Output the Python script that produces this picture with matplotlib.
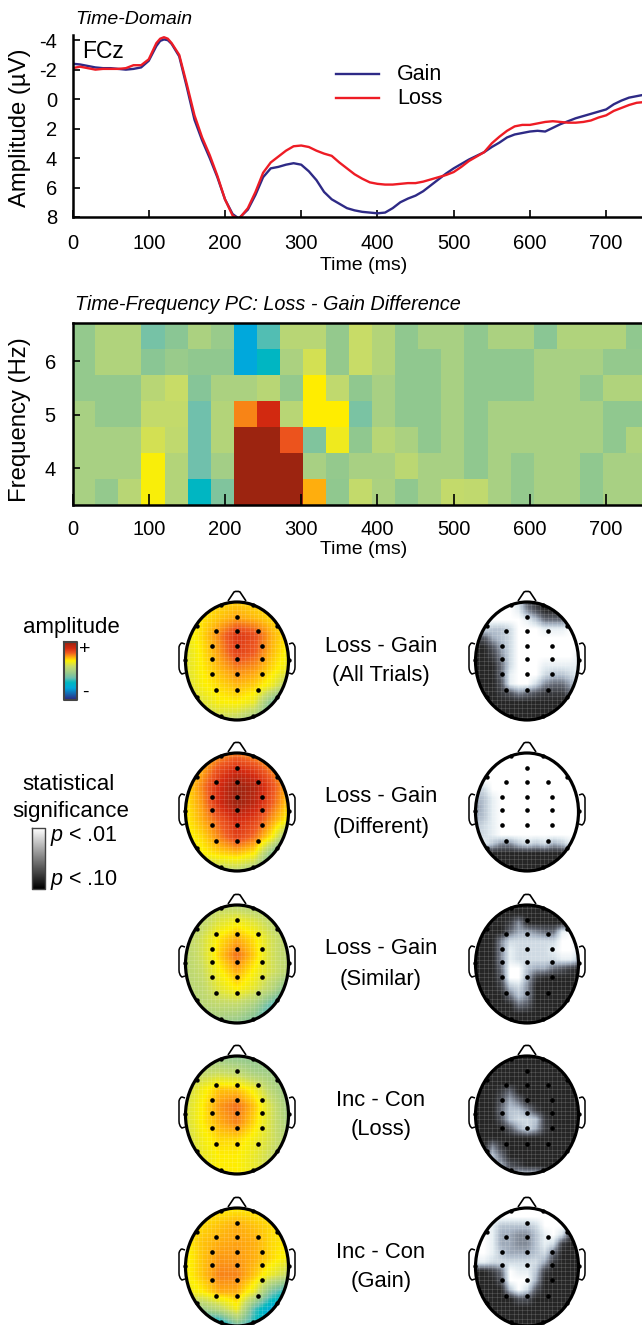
import numpy as np
import matplotlib
matplotlib.use('Agg')
import matplotlib.pyplot as plt
from matplotlib.colors import LinearSegmentedColormap
from matplotlib.patches import Ellipse, PathPatch
from matplotlib.path import Path

plt.rcParams['font.family'] = ['Liberation Sans', 'DejaVu Sans']
plt.rcParams['mathtext.fontset'] = 'custom'
plt.rcParams['mathtext.it'] = 'Liberation Sans:italic'
plt.rcParams['mathtext.rm'] = 'Liberation Sans'
plt.rcParams['axes.unicode_minus'] = False

W, H = 642, 1325

# ERP curves
time_ms = [0, 10, 20, 30, 40, 50, 60, 70, 80, 90, 100, 110, 115, 120, 125, 130, 140, 150, 160, 170, 180, 190,
           200, 210, 218, 230, 240, 250, 260, 270, 280, 290, 300, 310, 320, 330, 340, 350, 360, 370, 380, 390,
           400, 410, 420, 430, 440, 450, 460, 470, 480, 490, 500, 510, 520, 530, 540, 550, 560, 570, 580, 590,
           600, 610, 620, 630, 640, 650, 660, 670, 680, 690, 700, 710, 720, 730, 740, 750]
gain = [-2.4, -2.35, -2.25, -2.15, -2.1, -2.1, -2.05, -2.0, -2.05, -2.15, -2.6, -3.6, -3.95, -4.05, -4.0, -3.75, -2.9, -0.8, 1.4, 2.8, 4.0, 5.3,
        6.8, 7.8, 8.1, 7.5, 6.5, 5.3, 4.7, 4.6, 4.45, 4.35, 4.45, 4.9, 5.5, 6.3, 6.8, 7.1, 7.4, 7.55, 7.65, 7.7,
        7.75, 7.7, 7.4, 7.0, 6.75, 6.55, 6.25, 5.85, 5.45, 5.05, 4.7, 4.4, 4.1, 3.85, 3.6, 3.25, 2.95, 2.6, 2.4, 2.3,
        2.2, 2.15, 2.2, 1.95, 1.7, 1.5, 1.3, 1.15, 1.0, 0.85, 0.7, 0.35, 0.1, -0.1, -0.2, -0.3]
loss = [-2.1, -2.2, -2.1, -2.0, -2.05, -2.05, -2.05, -2.1, -2.3, -2.3, -2.7, -3.8, -4.1, -4.2, -4.1, -3.8, -3.0, -1.0, 1.1, 2.6, 3.8, 5.2,
        6.8, 7.9, 8.15, 7.4, 6.3, 5.0, 4.3, 3.9, 3.5, 3.2, 3.15, 3.25, 3.5, 3.7, 3.85, 4.3, 4.7, 5.1, 5.4, 5.65,
        5.75, 5.8, 5.8, 5.75, 5.7, 5.7, 5.6, 5.45, 5.3, 5.15, 4.95, 4.6, 4.2, 3.9, 3.6, 3.0, 2.55, 2.15, 1.85, 1.75,
        1.75, 1.65, 1.55, 1.5, 1.55, 1.6, 1.6, 1.55, 1.45, 1.25, 1.1, 0.8, 0.6, 0.4, 0.25, 0.2]

# time-frequency cells, position on the colour scale (top row first)
tf_rows = [
    [.46, .52, .52, .40, .44, .51, .47, .20, .36, .54, .54, .46, .58, .53, .45, .50, .50, .45, .51, .51, .44, .52, .52, .52, .45],
    [.46, .52, .52, .44, .47, .45, .45, .20, .29, .51, .60, .46, .58, .53, .45, .45, .50, .45, .45, .45, .50, .50, .50, .46, .46],
    [.46, .46, .46, .54, .58, .43, .51, .51, .54, .46, .68, .56, .45, .50, .45, .45, .50, .45, .45, .45, .50, .50, .46, .52, .52],
    [.50, .46, .46, .57, .57, .39, .53, .78, .90, .54, .68, .68, .41, .50, .45, .45, .50, .45, .50, .50, .50, .50, .50, .45, .45],
    [.50, .50, .50, .60, .56, .39, .53, 1.0, 1.0, .83, .42, .65, .45, .54, .51, .45, .50, .45, .50, .50, .50, .50, .50, .45, .52],
    [.50, .50, .50, .67, .53, .39, .49, 1.0, 1.0, 1.0, .50, .46, .50, .50, .55, .50, .50, .45, .50, .46, .50, .50, .45, .50, .50],
    [.50, .46, .54, .67, .53, .29, .42, 1.0, 1.0, 1.0, .74, .45, .57, .51, .45, .50, .57, .56, .50, .46, .50, .50, .45, .50, .50],
]

# scalp maps, amplitude in hundredths of the colour scale (7 columns, 8 rows)
amp_all = [[66, 68, 70, 71, 70, 68, 66], [66, 69, 72, 75, 73, 70, 67], [65, 70, 78, 88, 84, 74, 68], [62, 69, 76, 86, 82, 73, 66],
           [62, 68, 73, 78, 76, 70, 64], [60, 67, 70, 73, 71, 65, 52], [58, 62, 67, 68, 64, 42, 25], [55, 56, 58, 56, 48, 34, 25]]
amp_diff = [[68, 70, 75, 78, 75, 70, 68], [68, 74, 84, 90, 86, 78, 70], [68, 78, 90, 100, 96, 84, 72], [68, 76, 90, 100, 94, 82, 70],
            [67, 74, 82, 90, 86, 76, 66], [66, 70, 78, 86, 80, 68, 46], [62, 67, 70, 72, 68, 44, 24], [52, 54, 56, 56, 50, 32, 24]]
amp_sim = [[52, 54, 56, 54, 52, 50, 48], [54, 56, 62, 66, 62, 56, 52], [55, 60, 69, 74, 69, 60, 54], [54, 60, 71, 80, 71, 60, 54],
           [54, 58, 67, 74, 67, 60, 54], [53, 56, 63, 68, 63, 54, 40], [52, 54, 56, 56, 50, 36, 25], [48, 48, 48, 46, 40, 28, 25]]
amp_inc_loss = [[50, 50, 46, 44, 44, 46, 46], [52, 56, 58, 56, 50, 48, 46], [58, 66, 72, 72, 66, 54, 46], [60, 68, 76, 80, 72, 60, 48],
                [60, 68, 74, 78, 70, 60, 50], [58, 66, 70, 70, 66, 60, 52], [58, 64, 68, 68, 64, 58, 52], [58, 62, 68, 68, 64, 58, 54]]
amp_inc_gain = [[66, 68, 68, 68, 68, 66, 64], [66, 70, 72, 74, 72, 70, 66], [67, 72, 74, 75, 74, 70, 68], [66, 72, 76, 76, 74, 70, 66],
                [66, 72, 78, 78, 72, 64, 56], [64, 68, 74, 74, 64, 40, 28], [52, 48, 55, 66, 36, 20, 18], [22, 20, 20, 40, 30, 20, 20]]

# significance maps, 0 = p < .10 (black) to 9 = p < .01 (white), 13 columns, 14 rows
sig_all = ['9999972000147', '9999984200015', '9999998633368', '8766799988899', '2256799999999', '0025799999999', '0014799999998',
           '0003799988888', '0003899976678', '0002899743357', '0001243211135', '0000000000000', '0000000000000', '0000000000000']
sig_diff = ['9999999999999', '9999999999999', '9999999999999', '9999999999999', '7799999999999', '5689999999999', '4689999999999',
            '5689999999999', '6789999999999', '7789999999999', '8864467675689', '0000000000025', '0000000000000', '0000000000000']
sig_sim = ['0000000000000', '0000000000000', '0000140000000', '0000355433893', '0004777777997', '0004877778998', '0004877777886',
           '0003996553210', '0002995100000', '0001674000000', '0000364000000', '0000032000000', '0000000000000', '0000000000000']
sig_inc_loss = ['0000000000000', '0000000000000', '0000000000000', '0000000000000', '0001300000000', '0002530000000', '0003664100000',
                '0002677610000', '0000257510000', '0000000000000', '0041000000000', '0363000000000', '0045210000000', '0000366630000']
sig_inc_gain = ['9999999999999', '9999999999999', '9986666799999', '9985544689710', '9985544687100', '9986555673000', '8877777751000',
                '0013988610000', '0002999500000', '0000697200000', '0000022000000', '0000000000000', '0000000000000', '0000000000000']

amp_maps = [amp_all, amp_diff, amp_sim, amp_inc_loss, amp_inc_gain]
sig_maps = [sig_all, sig_diff, sig_sim, sig_inc_loss, sig_inc_gain]
row_names = [('Loss - Gain', '(All Trials)'), ('Loss - Gain', '(Different)'), ('Loss - Gain', '(Similar)'),
             ('Inc - Con', '(Loss)'), ('Inc - Con', '(Gain)')]
row_centers = [661, 812, 964, 1115, 1267]

# electrode offsets from the head centre
elec_x = [0, -21, 0, 21, -25, 0, 25, -25, 0, 25, -25, 0, 25, -21, 0, 21]
elec_y = [-44, -30, -30, -30, -15, -15, -15, -2, -2, -2, 13, 13, 13, 29, 29, 29]
rim_x = [-16, 16, -40, 40, -52, 52, -40, 40, -16, 16]
rim_y = [-56, -56, -35, -35, -1, -1, 36, 36, 55, 55]

amp_cmap = LinearSegmentedColormap.from_list('amp', [
    (0.0, '#2b2a84'), (0.2, '#00a8dc'), (0.3, '#00b8c0'), (0.38, '#6cc0b0'), (0.45, '#90c890'), (0.5, '#a8d084'),
    (0.58, '#c8dc68'), (0.68, '#fff000'), (0.75, '#ffa510'), (0.82, '#f05a20'), (0.9, '#d42a10'), (1.0, '#9c2410')])
sig_cmap = LinearSegmentedColormap.from_list('sig', [
    (0.0, '#262626'), (0.3, '#5e636e'), (0.6, '#a9b6c6'), (0.85, '#dfe9ef'), (1.0, '#ffffff')])


def px_axes(fig, left, top, right, bottom):
    return fig.add_axes([left / W, 1 - bottom / H, (right - left) / W, (bottom - top) / H])


fig = plt.figure(figsize=(W / 100, H / 100), dpi=100)

# time-domain panel
ax = px_axes(fig, 72.5, 35, 642, 217)
ax.plot(time_ms, gain, color='#2e2a86', lw=1.7)
ax.plot(time_ms, loss, color='#ee1c25', lw=1.7)
ax.set_xlim(0, 747)
ax.set_ylim(8, -4.35)
ax.set_yticks([-4, -2, 0, 2, 4, 6, 8])
ax.set_xticks(range(0, 701, 100))
ax.spines[['top', 'right']].set_visible(False)
ax.spines[['left', 'bottom']].set_linewidth(1.8)
ax.tick_params(direction='in', length=5, width=1.2, labelsize=14.5)
ax.tick_params(axis='x', pad=12)
ax.tick_params(axis='y', pad=11)

# heatmap panel
ax2 = px_axes(fig, 72.5, 323, 642, 505)
ax2.imshow(tf_rows, cmap=amp_cmap, vmin=0, vmax=1, aspect='auto', interpolation='nearest',
           extent=(-1, 755, 3.31, 6.71))
ax2.set_xlim(0, 747)
ax2.set_ylim(3.31, 6.71)
ax2.set_yticks([4, 5, 6])
ax2.set_xticks(range(0, 701, 100))
ax2.spines['right'].set_visible(False)
ax2.spines[['left', 'bottom', 'top']].set_linewidth(1.8)
ax2.tick_params(direction='in', length=8, width=1.2, labelsize=14.5)
ax2.tick_params(axis='x', pad=11)
ax2.tick_params(axis='y', length=5, pad=12)

# everything else is placed in pixel coordinates
ov = fig.add_axes([0, 0, 1, 1], facecolor='none')
ov.set_axis_off()
ov.set_autoscale_on(False)
ov.set_xlim(0, W)
ov.set_ylim(H, 0)

ov.text(75, 20, 'Time-Domain', fontsize=14, style='italic', va='center')
ov.text(75, 305, 'Time-Frequency PC: Loss - Gain Difference', fontsize=14.3, style='italic', va='center')
ov.text(82, 52, 'FCz', fontsize=16.5, va='center')
ov.text(364, 265, 'Time (ms)', fontsize=14, ha='center', va='center')
ov.text(364, 550, 'Time (ms)', fontsize=14, ha='center', va='center')
ov.text(20, 128, 'Amplitude (µV)', fontsize=17.2, rotation=90, ha='center', va='center')
ov.text(20, 420, 'Frequency (Hz)', fontsize=17.2, rotation=90, ha='center', va='center')
ov.plot([336, 379], [74, 74], color='#2e2a86', lw=1.7)
ov.plot([336, 379], [98, 98], color='#ee1c25', lw=1.7)
ov.text(397, 75, 'Gain', fontsize=15.5, va='center')
ov.text(397, 99, 'Loss', fontsize=15.5, va='center')

# colour keys
ov.text(71, 628, 'amplitude', fontsize=16, ha='center', va='center')
ov.imshow(np.linspace(1, 0, 60).reshape(-1, 1), cmap=amp_cmap, vmin=0, vmax=1, aspect='auto', extent=(64, 77, 700, 642))
ov.plot([64, 77, 77, 64, 64], [642, 642, 700, 700, 642], color='#444444', lw=1.5)
ov.text(85, 650, '+', fontsize=14, ha='center', va='center')
ov.text(85, 692, '-', fontsize=14, ha='center', va='center')
ov.text(68, 784, 'statistical', fontsize=16, ha='center', va='center')
ov.text(71, 812, 'significance', fontsize=16, ha='center', va='center')
ov.imshow(np.linspace(1, 0, 60).reshape(-1, 1), cmap='gray', vmin=0, vmax=1, aspect='auto', extent=(32, 45, 889, 828))
ov.plot([32, 45, 45, 32, 32], [828, 828, 889, 889, 828], color='#444444', lw=1)
ov.text(50, 836, r'$\mathit{p}$ < .01', fontsize=15.5, va='center')
ov.text(50, 880, r'$\mathit{p}$ < .10', fontsize=15.5, va='center')


def draw_head(cx, cy, values, cmap, vmax, cols, rows):
    dx = 104 / (cols - 1) / 2
    dy = 118 / (rows - 1) / 2
    outline = Ellipse((cx, cy), 103, 118, facecolor='none', edgecolor='none')
    ov.add_patch(outline)
    img = ov.imshow(values, cmap=cmap, vmin=0, vmax=vmax, aspect='auto', interpolation='bilinear',
                    extent=(cx - 52 - dx, cx + 52 + dx, cy + 59 + dy, cy - 59 - dy), zorder=2)
    img.set_clip_path(outline)
    # fine mesh of the original rendering
    for vals, fn, lo, hi in [(np.arange(cx - 52, cx + 53, 4.3), ov.vlines, cy - 60, cy + 60),
                             (np.arange(cy - 60, cy + 61, 4.3), ov.hlines, cx - 52, cx + 52)]:
        mesh = fn(vals, lo, hi, color='white', lw=0.5, alpha=0.18, zorder=3)
        mesh.set_clip_path(outline)
    ov.add_patch(Ellipse((cx, cy), 103, 118, facecolor='none', edgecolor='black', lw=2.3, zorder=5))
    nose = Path([(cx - 9, cy - 60), (cx - 3, cy - 69), (cx, cy - 70.5), (cx + 3, cy - 69), (cx + 9, cy - 60)],
                [Path.MOVETO, Path.LINETO, Path.CURVE3, Path.CURVE3, Path.LINETO])
    ov.add_patch(PathPatch(nose, facecolor='none', edgecolor='black', lw=1.2, zorder=5))
    for side in (-1, 1):
        ear = Path([(cx + side * 52, cy - 17), (cx + side * 55, cy - 18), (cx + side * 57, cy - 18), (cx + side * 58, cy - 14),
                    (cx + side * 58, cy + 6), (cx + side * 58, cy + 11), (cx + side * 55, cy + 13), (cx + side * 52, cy + 12)],
                   [Path.MOVETO, Path.LINETO, Path.CURVE3, Path.CURVE3, Path.LINETO, Path.CURVE3, Path.CURVE3, Path.LINETO])
        ov.add_patch(PathPatch(ear, facecolor='none', edgecolor='black', lw=1.1, zorder=5))
    ov.scatter(cx + np.array(elec_x), cy + np.array(elec_y), s=11, color='black', lw=0, zorder=6, clip_on=False)
    ov.scatter(cx + np.array(rim_x), cy + np.array(rim_y), s=10, color='black', lw=0, zorder=6)


for cy, amp, sig, names in zip(row_centers, amp_maps, sig_maps, row_names):
    draw_head(237, cy, amp, amp_cmap, 100, 7, 8)
    draw_head(527, cy, [[int(c) for c in r] for r in sig], sig_cmap, 9, 13, 14)
    ov.text(381, cy - 15, names[0], fontsize=15.8, ha='center', va='center')
    ov.text(381, cy + 15, names[1], fontsize=15.8, ha='center', va='center')

fig.savefig('out.png', dpi=100)
